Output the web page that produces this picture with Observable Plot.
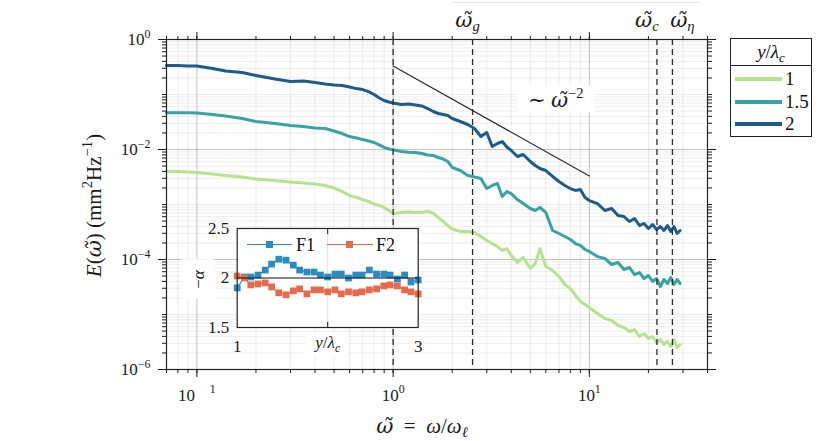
<!DOCTYPE html>
<html><head><meta charset="utf-8">
<script src="https://cdn.jsdelivr.net/npm/d3@7"></script>
<script src="https://cdn.jsdelivr.net/npm/@observablehq/plot@0.6"></script>
<style>
body{margin:0;background:#fff;}
#wrap{position:relative;width:830px;height:441px;overflow:hidden;font-family:"Liberation Serif","DejaVu Serif",serif;color:#111;}
#wrap svg{position:absolute;}
</style></head><body><div id="wrap"></div>
<script>
// ---------- data ----------
const omega = [0.07,0.08,0.09,0.1,0.12,0.14,0.17,0.2,0.25,0.3,0.35,0.4,0.45,0.5,0.55,0.6,0.65,0.7,0.75,0.8,0.85,0.9,0.95,
  1.0,1.1,1.2,1.3,1.4,1.5,1.6,1.7,1.8,1.9,2.0,
  2.2,2.4,2.6,2.8,3.0,3.2,3.4,3.6,3.8,4.0,
  4.3,4.6,5.0,5.3,5.6,6.0,
  6.5,7.0,7.5,8.0,8.5,9.0,9.5,
  10,11,12,13,14,15,16,17,18,19,20,21,22,23,24,25,26,27,28,29];
const E_1 = [0.00403,0.00398,0.0039,0.00382,0.00359,0.00337,0.00316,0.00291,0.00273,0.00257,0.00246,0.00236,0.00222,0.002,0.00172,0.00146,0.00134,0.00123,0.00113,0.00102,0.00096,0.000882,0.000778,
  0.000686,0.000716,0.000731,0.000716,0.000716,0.000746,0.0007,0.00058,0.000491,0.000415,0.000359,
  0.000323,0.000323,0.00031,0.000262,0.000222,0.000195,0.000172,0.000146,0.000158,0.000118,
  0.0000882,0.000109,0.0000686,0.0000846,0.000158,0.0000746,
  0.0000631,0.0000491,0.0000351,0.0000297,0.0000222,0.0000172,0.0000152,
  0.0000134,0.0000104,0.00000846,0.00000778,0.00000631,0.0000058,0.00000491,0.00000533,0.00000398,0.00000452,0.00000366,0.00000398,0.0000031,0.00000351,0.00000285,0.00000323,0.00000262,0.00000351,0.00000251,0.00000285];
const E_15 = [0.0465,0.0465,0.0465,0.0461,0.0433,0.0407,0.0366,0.0323,0.0297,0.0273,0.0262,0.0246,0.0241,0.0217,0.0195,0.0172,0.0162,0.0152,0.0143,0.0134,0.0121,0.0109,0.0102,
  0.00987,0.0092,0.00893,0.00882,0.00846,0.00794,0.00778,0.00716,0.00672,0.00605,0.00471,
  0.00415,0.00337,0.00316,0.00297,0.00195,0.00222,0.00241,0.0014,0.00172,0.00158,
  0.00123,0.00104,0.000846,0.000778,0.000882,0.000716,
  0.000337,0.000297,0.000262,0.000231,0.000195,0.00018,0.000152,
  0.00014,0.000113,0.000104,0.0000811,0.0000882,0.0000658,0.0000716,0.0000533,0.000058,0.0000452,0.0000512,0.0000398,0.0000452,0.0000323,0.0000433,0.0000366,0.0000471,0.0000351,0.0000433,0.0000366];
const E_2 = [0.337,0.337,0.330,0.330,0.297,0.268,0.251,0.222,0.191,0.172,0.176,0.165,0.155,0.149,0.146,0.137,0.128,0.123,0.113,0.100,0.0864,0.0778,0.0731,
  0.0701,0.0658,0.0672,0.0644,0.0618,0.0556,0.0491,0.0451,0.0433,0.0415,0.0366,
  0.0323,0.0285,0.0241,0.0172,0.0204,0.01134,0.01285,0.01397,0.0111,0.0096,
  0.00746,0.0081,0.00605,0.00512,0.00452,0.00415,
  0.00323,0.00262,0.00222,0.00195,0.0018,0.00187,0.00134,
  0.00118,0.00104,0.000778,0.000846,0.000631,0.000605,0.000491,0.000556,0.000415,0.000452,0.000366,0.000433,0.000351,0.000398,0.000337,0.000415,0.000323,0.000398,0.000297,0.000337];
const seriesLabels = ["1", "1.5", "2"];
const seriesColors = ["#b6e38e", "#39a2a2", "#1c5b8b"];

const markerOmegas = [1, 2.54, 22.1, 26.5];
const topLabels = ["$ω̃$_{$g$}", "$ω̃$_{$c$}", "$ω̃$_{$η$}"];
const topLabelOmegas = [2.54, 22.1, 26.5];

const slopeOmega = [1, 10];
const slopeE = [0.33, 0.0033];
const slopeText = "∼ $ω̃$^{−2}";
const slopeTextOmega = 6.75, slopeTextE = 0.0785;

const xMajorTicks = [0.1, 1, 10];
const xTickLabels = ["10^{\u2003 1}", "10^{0}", "10^{1}"];
const yMajorTicks = [1e-6, 1e-4, 1e-2, 1];
const yTickLabels = ["10^{−6}", "10^{−4}", "10^{−2}", "10^{0}"];
const xLabel = "$ω̃$\u2002=\u2002$ω$/$ω$_{$ℓ$}";
const yLabel = "$E$($ω̃$) (mm^{2}Hz^{−1})";
const legendTitle = "<i>y</i>/<i>λ</i><sub><i>c</i></sub>";

// inset
const insetX = [1,1.08,1.15,1.23,1.31,1.38,1.46,1.54,1.62,1.69,1.77,1.85,1.92,2.0,2.08,2.15,2.23,2.31,2.38,2.46,2.54,2.62,2.69,2.77,2.85,2.92,3.0];
const alphaF1 = [1.90,2.01,2.01,2.03,2.08,2.14,2.19,2.18,2.13,2.08,2.06,2.06,2.03,2.01,2.04,2.04,2.00,2.03,2.03,2.08,2.04,2.04,2.03,1.99,2.03,1.96,1.98];
const alphaF2 = [2.02,2.00,1.93,1.94,1.95,1.91,1.85,1.83,1.87,1.89,1.84,1.88,1.88,1.86,1.88,1.84,1.86,1.85,1.86,1.88,1.89,1.92,1.93,1.92,1.88,1.86,1.84];
const insetNames = ["F1", "F2"];
const insetColors = ["#2b8cc3", "#e8694b"];
const insetXTicks = [1, 3];
const insetXTickLabels = ["1", "3"];
const insetYTicks = [1.5, 2, 2.5];
const insetYTickLabels = ["1.5", "2", "2.5"];
const insetXLabel = "$y$/$λ$_{$c$}";
const insetYLabel = "−$α$";

// ---------- build ----------
const FONT = '"Liberation Serif","DejaVu Serif",serif';
const series = [E_1, E_15, E_2].map((E, k) => omega.map((w, i) => ({omega: w, E: E[i], s: seriesLabels[k]})));
const slopeRows = slopeOmega.map((w, i) => ({omega: w, E: slopeE[i]}));
const dash = {stroke: "#2a2a2a", strokeWidth: 1.3, strokeDasharray: "6,4"};
const noLab = () => "";
const mid = {textAnchor: "middle", lineAnchor: "middle"};

const main = Plot.plot({
  width: 830, height: 441,
  marginLeft: 166, marginRight: 123, marginTop: 39, marginBottom: 72,
  x: {type: "log", domain: [0.07, 40]},
  y: {type: "log", domain: [1e-6, 1]},
  style: {fontFamily: FONT, fontSize: "17px", background: "transparent", color: "#1a1a1a"},
  marks: [
    Plot.gridX({ticks: 40, stroke: "#000", strokeOpacity: 0.075}),
    Plot.gridY({ticks: 40, stroke: "#000", strokeOpacity: 0.075}),
    Plot.gridX(xMajorTicks, {stroke: "#000", strokeOpacity: 0.17}),
    Plot.gridY(yMajorTicks, {stroke: "#000", strokeOpacity: 0.17}),
    ...series.map((rows, k) => Plot.line(rows, {x: "omega", y: "E", stroke: seriesColors[k], strokeWidth: 3, strokeLinejoin: "round"})),
    Plot.ruleX(markerOmegas, dash),
    Plot.line(slopeRows, {x: "omega", y: "E", stroke: "#2a2a2a", strokeWidth: 1.2}),
    Plot.text([slopeText], {x: () => slopeTextOmega, y: () => slopeTextE, fontSize: 21, className: "boxslope", ...mid}),
    Plot.text([topLabels[0]], {x: () => topLabelOmegas[0], frameAnchor: "top", dy: -19, dx: -5, fontSize: 21, ...mid}),
    Plot.text([topLabels[1]], {x: () => topLabelOmegas[1], frameAnchor: "top", dy: -19, dx: -10, fontSize: 21, ...mid}),
    Plot.text([topLabels[2]], {x: () => topLabelOmegas[2], frameAnchor: "top", dy: -19, dx: 10, fontSize: 21, ...mid}),
    Plot.frame({stroke: "#222", strokeWidth: 1.2}),
    Plot.axisX({anchor: "bottom", ticks: 40, tickSize: 4, tickFormat: noLab, label: null}),
    Plot.axisX({anchor: "top", ticks: 40, tickSize: 4, tickFormat: noLab, label: null}),
    Plot.axisX(xMajorTicks, {anchor: "bottom", tickSize: 8, tickPadding: 11, tickFormat: d => xTickLabels[xMajorTicks.indexOf(d)], label: null}),
    Plot.axisX(xMajorTicks, {anchor: "top", tickSize: 8, tickFormat: noLab, label: null}),
    Plot.axisY({anchor: "left", ticks: 40, tickSize: 4, tickFormat: noLab, label: null}),
    Plot.axisY({anchor: "right", ticks: 40, tickSize: 4, tickFormat: noLab, label: null}),
    Plot.axisY(yMajorTicks, {anchor: "left", tickSize: 8, tickPadding: 8, tickFormat: d => yTickLabels[yMajorTicks.indexOf(d)], label: null}),
    Plot.axisY(yMajorTicks, {anchor: "right", tickSize: 8, tickFormat: noLab, label: null}),
    Plot.text([xLabel], {frameAnchor: "bottom", dx: -15, dy: 57, fontSize: 21, ...mid}),
    Plot.text([yLabel], {frameAnchor: "left", rotate: -90, dx: -72, dy: 1, fontSize: 21, ...mid})
  ]
});

const insetRows = [alphaF1, alphaF2].map(a => insetX.map((s, i) => ({s, a: a[i]})));
const inset = Plot.plot({
  width: 260, height: 150,
  marginLeft: 66.7, marginRight: 12.3, marginTop: 13, marginBottom: 38,
  x: {domain: [1, 3]},
  y: {domain: [1.5, 2.5]},
  style: {fontFamily: FONT, fontSize: "17px", background: "transparent", color: "#1a1a1a", overflow: "visible"},
  marks: [
    Plot.frame({fill: "white"}),
    Plot.gridX([2], {stroke: "#000", strokeOpacity: 0.13}),
    ...insetRows.flatMap((rows, k) => [
      Plot.line(rows, {x: "s", y: "a", stroke: insetColors[k], strokeWidth: 1.2}),
      Plot.dot(rows, {x: "s", y: "a", symbol: "square", fill: insetColors[k], r: 3.8})
    ]),
    Plot.ruleY([2], {stroke: "#111", strokeWidth: 1.2}),
    Plot.frame({stroke: "#222", strokeWidth: 1.2}),
    Plot.axisX([2], {anchor: "bottom", tickSize: -5, tickFormat: noLab, label: null}),
    Plot.axisX([2], {anchor: "top", tickSize: -5, tickFormat: noLab, label: null}),
    Plot.axisX(insetXTicks, {anchor: "bottom", tickSize: 0, tickPadding: 12.5, tickFormat: d => insetXTickLabels[insetXTicks.indexOf(d)], label: null}),
    Plot.axisY(insetYTicks, {anchor: "left", tickSize: 0, tickPadding: 8, tickFormat: d => insetYTickLabels[insetYTicks.indexOf(d)], label: null}),
    Plot.text([insetXLabel], {frameAnchor: "bottom", dy: 15.5, className: "boxix", ...mid}),
    Plot.text([insetYLabel], {frameAnchor: "left", rotate: -90, dx: -39, dy: 1.5, className: "boxiy", ...mid})
  ]
});

const wrap = document.getElementById("wrap");
main.style.left = "0px"; main.style.top = "0px";
inset.style.left = "170px"; inset.style.top = "215px";
wrap.appendChild(main);
wrap.appendChild(inset);

// rich text: $..$ italic, ^{..} superscript, _{..} subscript; accented letters use DejaVu Serif
const NS = "http://www.w3.org/2000/svg";
function parseRich(s) {
  const segs = []; let it = false, sh = 0, buf = "";
  const flush = () => { if (buf) { segs.push({t: buf, it, sh}); buf = ""; } };
  for (let i = 0; i < s.length; i++) {
    const c = s[i];
    if (c === "$") { flush(); it = !it; }
    else if ((c === "^" || c === "_") && s[i + 1] === "{") { flush(); sh = c === "^" ? 1 : -1; i++; }
    else if (c === "}" && sh) { flush(); sh = 0; }
    else buf += c;
  }
  flush(); return segs;
}
function richify(root) {
  root.querySelectorAll("text").forEach(t => {
    const s = t.textContent;
    if (!/[\$\^_\u0303]/.test(s)) return;
    const fs = parseFloat(getComputedStyle(t).fontSize) || 17;
    const segs = parseRich(s);
    t.textContent = "";
    let cur = 0;
    for (const g of segs) {
      const target = g.sh === 1 ? -0.42 * fs : g.sh === -1 ? 0.2 * fs : 0;
      const ts = document.createElementNS(NS, "tspan");
      if (target !== cur) ts.setAttribute("dy", (target - cur).toFixed(2));
      cur = target;
      if (g.sh) ts.setAttribute("font-size", (0.7 * fs).toFixed(2));
      if (g.it) ts.setAttribute("font-style", "italic");
      if (g.t.includes("\u0303")) ts.setAttribute("font-family", '"DejaVu Serif", serif');
      ts.textContent = g.t;
      t.appendChild(ts);
    }
  });
}
function boxify(root, sel, px, py) {
  root.querySelectorAll(sel).forEach(t => {
    const bb = t.getBBox();
    const r = document.createElementNS(NS, "rect");
    r.setAttribute("x", bb.x - px); r.setAttribute("y", bb.y - py);
    r.setAttribute("width", bb.width + 2 * px); r.setAttribute("height", bb.height + 2 * py);
    r.setAttribute("fill", "white");
    const tr = t.getAttribute("transform"); if (tr) r.setAttribute("transform", tr);
    t.parentNode.insertBefore(r, t);
  });
}
richify(main); richify(inset);
boxify(main, ".boxslope text", 11, 0);
boxify(inset, ".boxix text", 8, 1);
boxify(inset, ".boxiy text", 10, 7);

// faint top rule
const topRule = document.createElement("div");
topRule.style.cssText = "position:absolute;left:452px;top:2px;width:248px;height:0;border-top:1px solid #e6e6e6;";
wrap.appendChild(topRule);

// main legend
const leg = document.createElement("div");
leg.style.cssText = "position:absolute;left:730px;top:38px;width:80px;height:97px;border:1.5px solid #222;background:#fff;font-size:19px;";
const head = document.createElement("div");
head.style.cssText = "height:25.5px;border-bottom:1.5px solid #222;text-align:center;line-height:25px;";
head.innerHTML = legendTitle.replace("<sub>", '<sub style="font-size:13px;vertical-align:-4px;line-height:0">');
leg.appendChild(head);
seriesLabels.forEach((lab, k) => {
  const cy = 40 + k * 22.7;
  const ln = document.createElement("div");
  ln.style.cssText = `position:absolute;left:4px;top:${cy - 2}px;width:47px;height:4px;background:${seriesColors[k]};`;
  const tx = document.createElement("div");
  tx.style.cssText = `position:absolute;left:54px;top:${cy - 11}px;line-height:22px;`;
  tx.textContent = lab;
  leg.appendChild(ln); leg.appendChild(tx);
});
wrap.appendChild(leg);

// inset legend
const insetLegPos = [{x0: 246.7, x1: 291.7, tx: 296}, {x0: 326.7, x1: 373, tx: 376}];
insetNames.forEach((name, k) => {
  const p = insetLegPos[k], cy = 244.7;
  const ln = document.createElement("div");
  ln.style.cssText = `position:absolute;left:${p.x0}px;top:${cy - 0.6}px;width:${p.x1 - p.x0}px;height:1.3px;background:${insetColors[k]};`;
  const sq = document.createElement("div");
  const cx = (p.x0 + p.x1) / 2;
  sq.style.cssText = `position:absolute;left:${cx - 3.5}px;top:${cy - 3.5}px;width:7px;height:7px;background:${insetColors[k]};`;
  const tx = document.createElement("div");
  tx.style.cssText = `position:absolute;left:${p.tx}px;top:${cy - 11}px;line-height:22px;font-size:18px;`;
  tx.textContent = name;
  wrap.appendChild(ln); wrap.appendChild(sq); wrap.appendChild(tx);
});
</script></body></html>
